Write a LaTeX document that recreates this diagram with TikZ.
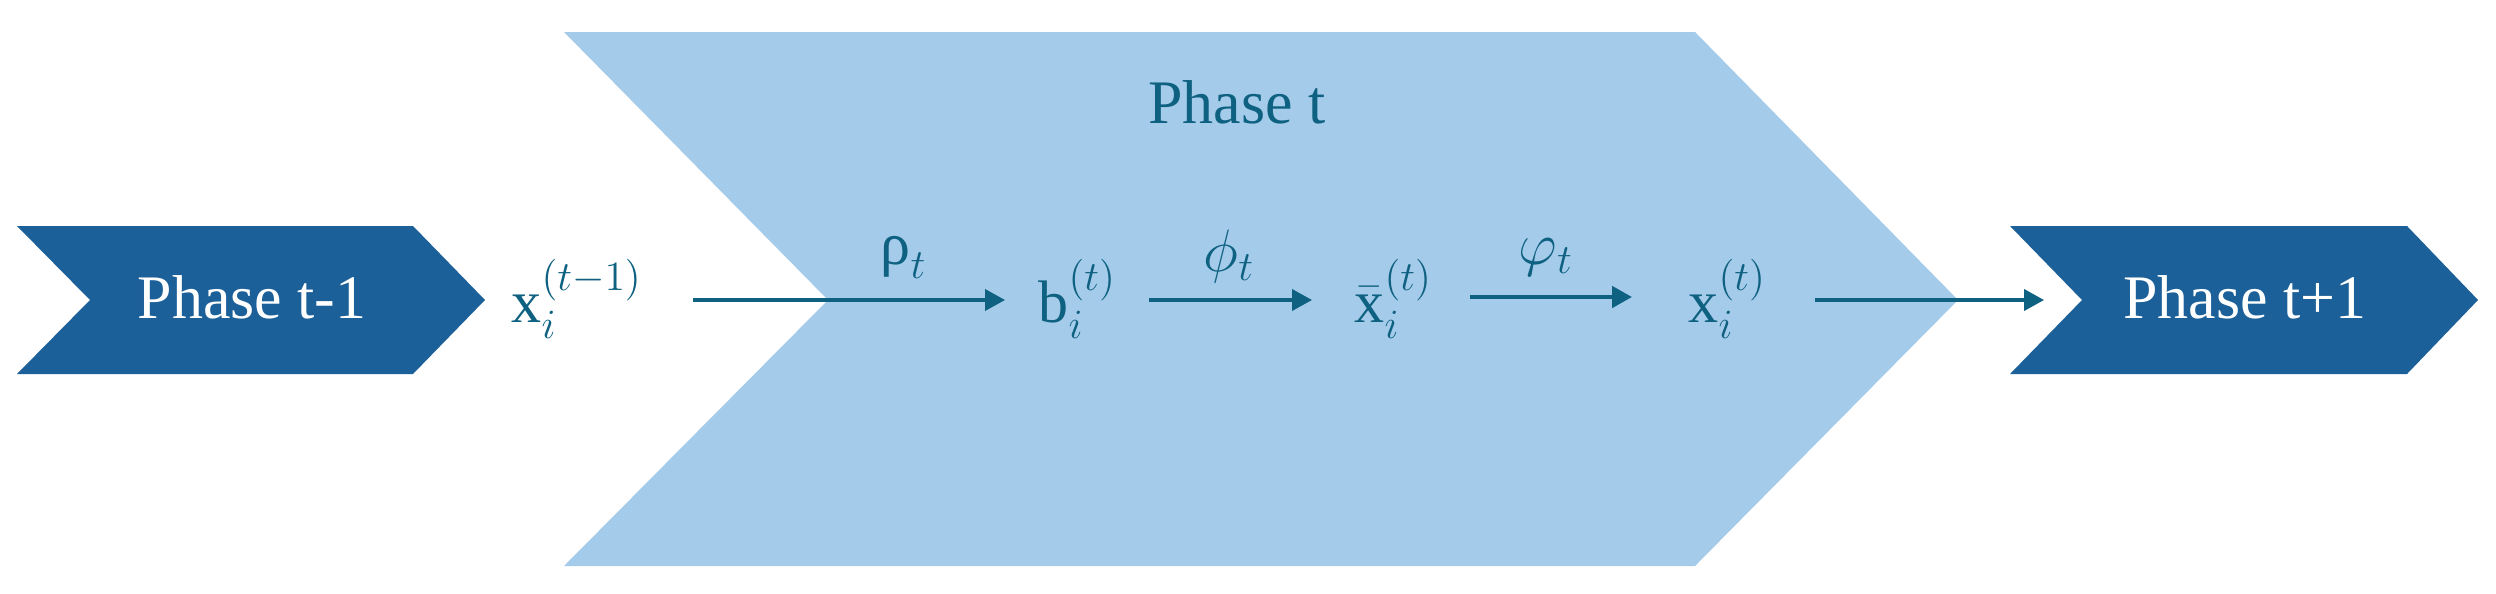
\documentclass[tikz,border=0pt]{standalone}
\usepackage{amsmath}
\usepackage{fontspec}
\setmainfont{Liberation Serif}
\usetikzlibrary{arrows.meta}
\DeclareMathSizes{20.74}{20.74}{14.4}{10}

\definecolor{phasedark}{RGB}{27,96,152}
\definecolor{phaselight}{RGB}{165,203,234}
\definecolor{flowteal}{RGB}{14,97,128}

\tikzset{every picture/.style={line width=1pt}}
\tikzset{
  phasetxt/.style={anchor=base, inner sep=0.75pt, font=\fontsize{21.4}{25}\selectfont},
  mathtxt/.style={anchor=base west, inner sep=0.75pt, text=flowteal, font=\fontsize{20.74}{24}\selectfont},
  flow/.style={draw=flowteal, line width=1.15pt, -{Triangle[length=6.9pt,width=7.3pt]}},
}

\begin{document}
\begin{tikzpicture}[x=0.3457pt,y=0.3457pt,yscale=-1,xscale=1]
\useasboundingbox (0,0) rectangle (2496,594);

%Shape: Chevron [id:phase_t]
\fill [phaselight] (564,32) -- (1695,32) -- (1958,300) -- (1695,566) -- (564,566) -- (828,300) -- cycle ;
%Shape: Chevron [id:phase_prev]
\fill [phasedark] (17,226) -- (413,226) -- (485,300) -- (413,374) -- (17,374) -- (90,300) -- cycle ;
%Shape: Chevron [id:phase_next]
\fill [phasedark] (2010,226) -- (2407,226) -- (2478,300) -- (2407,374) -- (2010,374) -- (2082,300) -- cycle ;

% Text Node
\draw (252,318) node [phasetxt, text=white] (prevtxt) {Phase t-1};
% Text Node
\draw (1237,123) node [phasetxt, text=flowteal] (curtxt) {Phase t};
% Text Node
\draw (2245,318) node [phasetxt, text=white] (nexttxt) {Phase t+1};

% Text Node
\draw (508,322) node [mathtxt] (xprev) {$\mathrm{x}_i^{(t-1)}$};
% Text Node
\draw (1035,322) node [mathtxt] (bt) {$\mathrm{b}_i^{(t)}$};
% Text Node
\draw (1351,322) node [mathtxt] (xbar) {$\bar{\mathrm{x}}_i^{(t)}$};
% Text Node
\draw (1685,322) node [mathtxt] (xt) {$\mathrm{x}_i^{(t)}$};

% Text Node
\draw (877,264) node [mathtxt] (rho) {$\text{ρ}_t$};
% Text Node
\draw (1200,271) node [mathtxt] (phi) {$\phi_t$};
% Text Node
\draw (1515,264) node [mathtxt] (vphi) {$\varphi_t$};

%Straight Lines [id:arrow ends]
\coordinate (a1s) at (693,300);  \coordinate (a1e) at (1005,300);
\coordinate (a2s) at (1149,300); \coordinate (a2e) at (1312,300);
\coordinate (a3s) at (1470,297); \coordinate (a3e) at (1632,297);
\coordinate (a4s) at (1815,300); \coordinate (a4e) at (2044,300);

%Straight Lines [id:flow arrows]
\draw [flow] (a1s) -- (a1e) ;
\draw [flow] (a2s) -- (a2e) ;
\draw [flow, line width=1.5pt] (a3s) -- (a3e) ;
\draw [flow] (a4s) -- (a4e) ;

\end{tikzpicture}
\end{document}
